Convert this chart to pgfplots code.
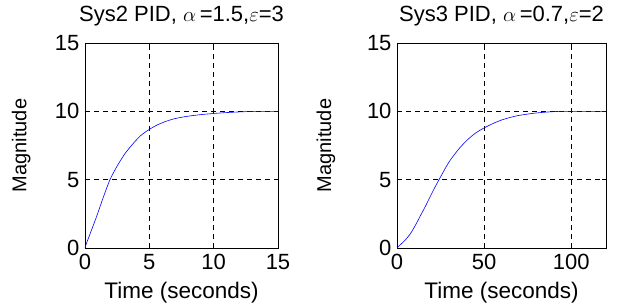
\documentclass[border=0pt]{standalone}
\usepackage{fontspec}
\setmainfont{Liberation Sans}
\usepackage{pgfplots}
\pgfplotsset{compat=1.18}
\begin{document}
\begin{tikzpicture}[x=1pt,y=1pt]
\path[use as bounding box] (0,0) rectangle (618,303);
\pgfplotsset{
  mystyle/.style={
    scale only axis, anchor=south west,
    height=205pt, ymin=0, ymax=15, ytick={0,5,10,15},
    /pgf/number format/assume math mode=true,
    tick label style={font=\fontsize{22}{24}\selectfont},
    title style={font=\fontsize{22}{24}\selectfont, at={(axis description cs:0.5,1)}, anchor=base, yshift=16pt},
    every axis x label/.style={font=\fontsize{22.5}{24}\selectfont, at={(axis description cs:0.5,0)}, anchor=base, yshift=-50pt},
    grid=major,
    major grid style={black, line width=0.6pt, dash pattern=on 5pt off 4pt},
    axis line style={black, line width=0.9pt},
    tick align=inside, major tick length=4pt,
    tick style={black, line width=0.6pt},
    xticklabel style={yshift=-3pt},
    yticklabel style={xshift=-2pt},
    xlabel={Time (seconds)}, ylabel={Magnitude},
  }
}
\begin{axis}[mystyle, at={(85pt,55pt)}, width=193pt,
  xmin=0, xmax=15, xtick={0,5,10,15},
  every axis y label/.style={font=\fontsize{20}{22}\selectfont, at={(axis description cs:-0.33,0.5)},rotate=90,anchor=center},
  title={Sys2 PID, $\alpha$\,=1.5,$\varepsilon$=3}]
\addplot[blue, line width=0.6pt, smooth, tension=0.4] coordinates {
(0,0) (0.1,0.3) (0.5,1.3) (0.9,2.3) (1.4,3.65) (1.94,5.0) (2.5,6.0) (3.1,6.9) (3.75,7.65) (4.3,8.2) (4.9,8.62) (5.6,9.0) (6.3,9.27) (7.0,9.47) (7.9,9.63) (9.0,9.76) (9.96,9.84) (11,9.91) (12.3,9.97) (13.5,10.0) (15,10.0)
};
\end{axis}
\begin{axis}[mystyle, at={(397pt,55pt)}, width=209pt,
  xmin=0, xmax=120, xtick={0,50,100},
  every axis y label/.style={font=\fontsize{20}{22}\selectfont, at={(axis description cs:-0.34,0.5)},rotate=90,anchor=center},
  title={Sys3 PID, $\alpha$\,=0.7,$\varepsilon$=2}]
\addplot[blue, line width=0.6pt, smooth, tension=0.4] coordinates {
(0,0) (1.9,0.24) (4.5,0.55) (7.7,1.05) (10.5,1.65) (13.4,2.35) (16.3,3.05) (19.2,3.8) (22,4.5) (25,5.2) (27.8,5.85) (30.7,6.45) (35.5,7.25) (40.3,7.9) (45,8.4) (49.9,8.78) (55,9.1) (59.5,9.34) (64,9.52) (69.1,9.68) (75,9.8) (80,9.88) (86.4,9.95) (95,10.0) (120,10.0)
};
\end{axis}
\end{tikzpicture}
\end{document}
